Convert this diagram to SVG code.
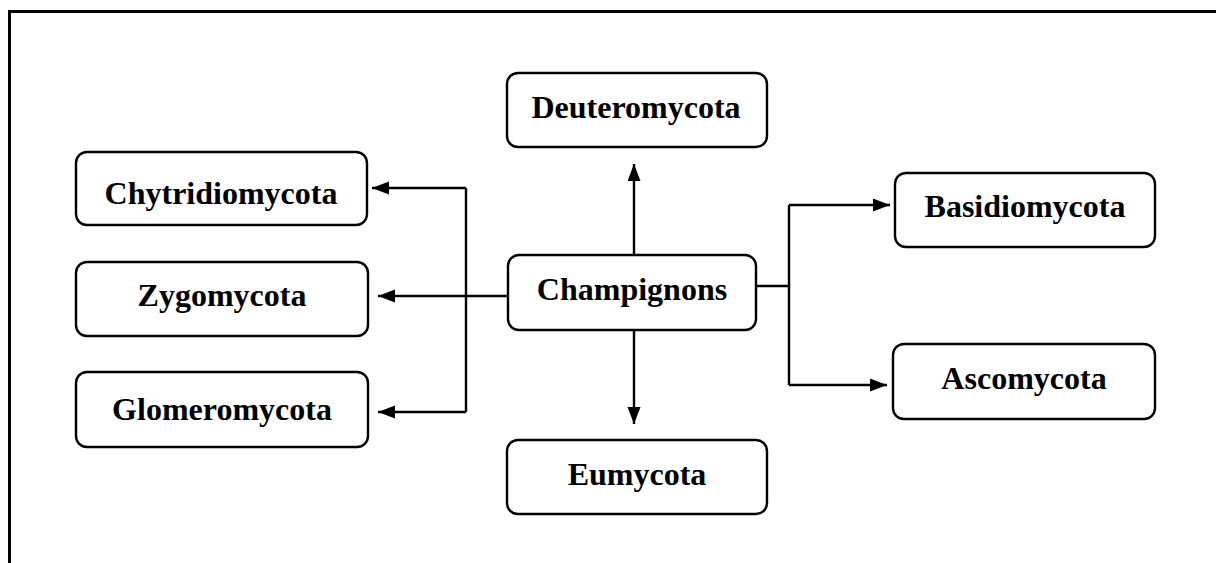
<svg xmlns="http://www.w3.org/2000/svg" width="1216" height="563" viewBox="0 0 1216 563">
  <defs>
    <style>
      .box { fill: #ffffff; stroke: #000000; stroke-width: 2.4; }
      .lbl { font-family: "Liberation Serif", "Times New Roman", serif; font-weight: bold; font-size: 32px; fill: #000000; text-anchor: middle; }
      .con { fill: none; stroke: #000000; stroke-width: 2.4; }
      .arr { marker-end: url(#ah); }
    </style>
    <marker id="ah" markerUnits="userSpaceOnUse" markerWidth="18" markerHeight="14" refX="17" refY="6.5" orient="auto">
      <path d="M0,0 L17,6.5 L0,13 Z" fill="#000000"/>
    </marker>
  </defs>
  <rect width="1216" height="563" fill="#ffffff"/>
  <g id="frame">
    <path d="M9.5,563 V11.5 H1216" fill="none" stroke="#000000" stroke-width="3"/>
  </g>
  <g id="connectors">
    <path class="con arr" d="M634,255 V164"/>
    <path class="con arr" d="M634,330 V424"/>
    <path class="con arr" d="M508,296 H378"/>
    <path class="con" d="M466,188 V412"/>
    <path class="con arr" d="M466,188 H372"/>
    <path class="con arr" d="M466,412 H378"/>
    <path class="con" d="M756,286 H789"/>
    <path class="con" d="M789,205 V385"/>
    <path class="con arr" d="M789,205 H890"/>
    <path class="con arr" d="M789,385 H887"/>
  </g>
  <g id="deuteromycota">
    <rect class="box" x="507" y="73" width="260" height="74" rx="11"/>
    <text class="lbl" x="636" y="118">Deuteromycota</text>
  </g>
  <g id="chytridiomycota">
    <rect class="box" x="76" y="152" width="291" height="73" rx="11"/>
    <text class="lbl" x="221" y="204">Chytridiomycota</text>
  </g>
  <g id="zygomycota">
    <rect class="box" x="76" y="262" width="292" height="74" rx="11"/>
    <text class="lbl" x="222" y="306">Zygomycota</text>
  </g>
  <g id="glomeromycota">
    <rect class="box" x="76" y="372" width="292" height="75" rx="11"/>
    <text class="lbl" x="222" y="420">Glomeromycota</text>
  </g>
  <g id="champignons">
    <rect class="box" x="508" y="255" width="248" height="75" rx="11"/>
    <text class="lbl" x="632" y="300">Champignons</text>
  </g>
  <g id="eumycota">
    <rect class="box" x="507" y="440" width="260" height="74" rx="11"/>
    <text class="lbl" x="637" y="485">Eumycota</text>
  </g>
  <g id="basidiomycota">
    <rect class="box" x="895" y="173" width="260" height="74" rx="11"/>
    <text class="lbl" x="1025" y="217">Basidiomycota</text>
  </g>
  <g id="ascomycota">
    <rect class="box" x="893" y="344" width="262" height="75" rx="11"/>
    <text class="lbl" x="1024" y="389">Ascomycota</text>
  </g>
</svg>
